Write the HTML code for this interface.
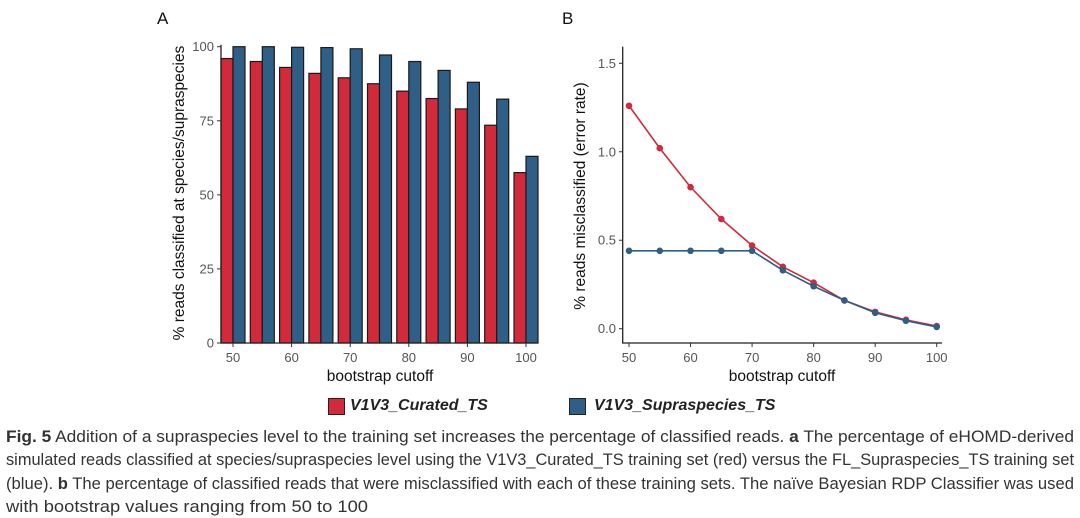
<!DOCTYPE html>
<html><head><meta charset="utf-8">
<style>
body{margin:0;background:#fff;width:1080px;height:518px;overflow:hidden;font-family:"Liberation Sans",sans-serif;}
</style></head><body>
<svg id="chart" width="1080" height="400" style="position:absolute;left:0;top:0" font-family="Liberation Sans, sans-serif"></svg>
<div style="position:absolute;left:0;top:395px;width:1080px;height:24px;font-weight:bold;font-style:italic;font-size:16px;color:#222">
 <div style="position:absolute;left:328px;top:3px;width:15px;height:15px;background:#d22a3a;border:1px solid #222"></div>
 <div style="position:absolute;left:350px;top:2px">V1V3_Curated_TS</div>
 <div style="position:absolute;left:569px;top:3px;width:15px;height:15px;background:#2f5f86;border:1px solid #222"></div>
 <div style="position:absolute;left:594px;top:2px">V1V3_Supraspecies_TS</div>
</div>
<svg width="1080" height="110" style="position:absolute;left:0;top:408px" font-family="Liberation Sans, sans-serif" font-size="16.5" fill="#333">
 <text x="6" y="34" textLength="1068" lengthAdjust="spacingAndGlyphs"><tspan font-weight="bold">Fig. 5</tspan> Addition of a supraspecies level to the training set increases the percentage of classified reads. <tspan font-weight="bold">a</tspan> The percentage of eHOMD-derived</text>
 <text x="6" y="57" textLength="1068" lengthAdjust="spacingAndGlyphs">simulated reads classified at species/supraspecies level using the V1V3_Curated_TS training set (red) versus the FL_Supraspecies_TS training set</text>
 <text x="6" y="81" textLength="1068" lengthAdjust="spacingAndGlyphs">(blue). <tspan font-weight="bold">b</tspan> The percentage of classified reads that were misclassified with each of these training sets. The naïve Bayesian RDP Classifier was used</text>
 <text x="6" y="104" textLength="362" lengthAdjust="spacingAndGlyphs">with bootstrap values ranging from 50 to 100</text>
</svg>
<script>
const cutoffs=[50,55,60,65,70,75,80,85,90,95,100];
const curatedPct=[96,95,93,91,89.5,87.5,85,82.5,79,73.5,57.5];
const supraPct=[100,100,99.8,99.7,99.3,97.2,95,92,88,82.3,63];
const curatedErr=[1.26,1.02,0.80,0.62,0.47,0.35,0.26,0.16,0.095,0.05,0.015];
const supraErr=[0.44,0.44,0.44,0.44,0.44,0.33,0.24,0.16,0.09,0.045,0.01];
const xTicks=[50,60,70,80,90,100];
const yTicksA=[0,25,50,75,100];
const yTicksB=[0,0.5,1.0,1.5];
const yTickLabelsB=["0.0","0.5","1.0","1.5"];
const RED="#d22a3a",BLUE="#2f5f86";
const svg=document.getElementById('chart');
const NS="http://www.w3.org/2000/svg";
function mk(t,a,p){const e=document.createElementNS(NS,t);for(const k in a)e.setAttribute(k,a[k]);(p||svg).appendChild(e);return e;}
function txt(s,a,name){const e=mk('text',a);e.textContent=s;return e;}
// Panel A
const xA=v=>233+(v-50)*(526-233)/50;
const yA=v=>343-v*(343-46.7)/100;
const bw=12;
cutoffs.forEach((c,i)=>{
 const r=mk('rect',{x:xA(c)-bw,y:yA(curatedPct[i]),width:bw,height:yA(0)-yA(curatedPct[i]),fill:RED,stroke:"#1a1a1a","stroke-width":1.2});
 
 
 const b=mk('rect',{x:xA(c),y:yA(supraPct[i]),width:bw,height:yA(0)-yA(supraPct[i]),fill:BLUE,stroke:"#1a1a1a","stroke-width":1.2});
 
 
});
let ax=mk('path',{d:`M221,${yA(100)-2}V343H538`,fill:"none",stroke:"#222","stroke-width":1.3});


yTicksA.forEach(v=>{mk('line',{x1:217,x2:221,y1:yA(v),y2:yA(v),stroke:"#333"});txt(String(v),{x:214,y:yA(v)+4.5,"text-anchor":"end","font-size":13,fill:"#555"},'y-tick-a-'+v);});
xTicks.forEach(v=>{mk('line',{x1:xA(v),x2:xA(v),y1:343,y2:347,stroke:"#333"});txt(String(v),{x:xA(v),y:362,"text-anchor":"middle","font-size":13,fill:"#555"},'x-tick-a-'+v);});
txt("bootstrap cutoff",{x:380,y:381,"text-anchor":"middle","font-size":15.5,fill:"#111"},'x-axis-title-a');
txt("% reads classified at species/supraspecies",{transform:"translate(184,193) rotate(-90)","text-anchor":"middle","font-size":15.5,fill:"#111"},'y-axis-title-a');
txt("A",{x:157,y:24,"font-size":17,fill:"#111"},'panel-label-a');
// Panel B
const xB=v=>629+(v-50)*(936.7-629)/50;
const yB=v=>328.7-v*(328.7-63.3)/1.5;
let bx=mk('path',{d:"M622.7,46.7V343H942",fill:"none",stroke:"#222","stroke-width":1.3});


yTicksB.forEach((v,i)=>{mk('line',{x1:619,x2:622.7,y1:yB(v),y2:yB(v),stroke:"#333"});txt(yTickLabelsB[i],{x:616,y:yB(v)+4.5,"text-anchor":"end","font-size":13,fill:"#555"},'y-tick-b-'+yTickLabelsB[i]);});
xTicks.forEach(v=>{mk('line',{x1:xB(v),x2:xB(v),y1:343,y2:347,stroke:"#333"});txt(String(v),{x:xB(v),y:362,"text-anchor":"middle","font-size":13,fill:"#555"},'x-tick-b-'+v);});
function series(vals,col,name){
 const l=mk('polyline',{points:cutoffs.map((c,i)=>xB(c)+","+yB(vals[i])).join(" "),fill:"none",stroke:col,"stroke-width":1.6});
 
 
 cutoffs.forEach((c,i)=>{const p=mk('circle',{cx:xB(c),cy:yB(vals[i]),r:3.3,fill:col});
  
  });
}
series(curatedErr,RED,'curated');
series(supraErr,BLUE,'supraspecies');
txt("bootstrap cutoff",{x:782,y:381,"text-anchor":"middle","font-size":15.5,fill:"#111"},'x-axis-title-b');
txt("% reads misclassified (error rate)",{transform:"translate(585,196) rotate(-90)","text-anchor":"middle","font-size":15.5,fill:"#111"},'y-axis-title-b');
txt("B",{x:562,y:24,"font-size":17,fill:"#111"},'panel-label-b');
</script>
</body></html>
